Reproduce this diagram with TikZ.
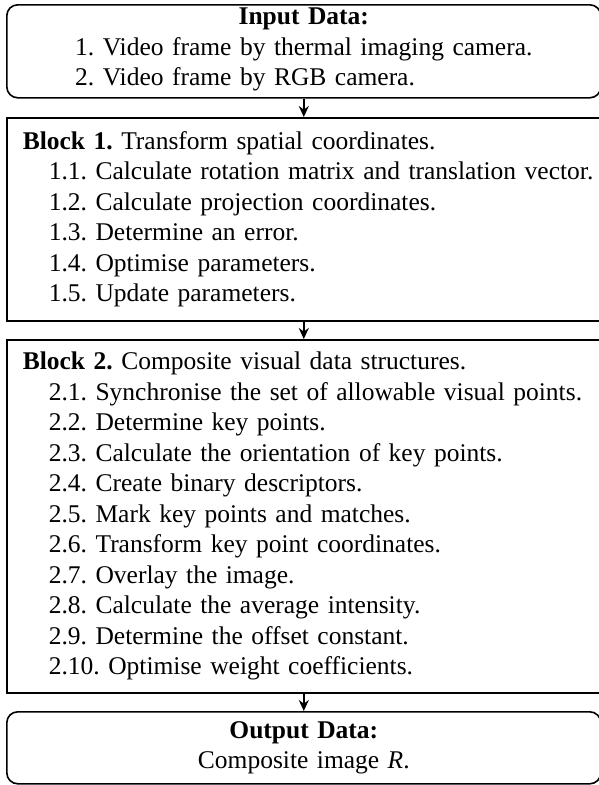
\documentclass[tikz,border=0pt]{standalone}
\usepackage{fontspec}
\setmainfont{Liberation Serif}
\frenchspacing
\usetikzlibrary{arrows.meta, positioning}
\tikzset{
  flowbox/.style={
    draw, line width=1.6pt, align=left, anchor=north west,
    inner xsep=0pt, inner ysep=0pt, text width=594pt,
    font=\fontsize{25.5}{30.5}\selectfont
  },
  flowboxround/.style={
    flowbox, rounded corners=11pt, align=center
  },
  flowarrow/.style={
    -{Stealth[length=11pt,width=10pt]}, line width=1.6pt
  },
}
\newcommand{\blocktitle}[2]{\hspace*{16pt}\textbf{#1} #2}
\newcommand{\blockstep}[1]{\\\hspace*{42pt}#1}

\begin{document}
\begin{tikzpicture}[x=1pt, y=-1pt]
  \useasboundingbox (0,0) rectangle (598,785);

  % Input data
  \node[flowboxround, minimum height=93pt] (input) at (6,4) {
    \textbf{Input Data:}\\
    \begin{tabular}[t]{@{}l@{}}
      1. Video frame by thermal imaging camera.\\
      2. Video frame by RGB camera.
    \end{tabular}
  };

  % Block 1
  \node[flowbox, minimum height=203pt] (block1) at (6,117) {
    \blocktitle{Block 1.}{Transform spatial coordinates.}
    \blockstep{1.1. Calculate rotation matrix and translation vector.}
    \blockstep{1.2. Calculate projection coordinates.}
    \blockstep{1.3. Determine an error.}
    \blockstep{1.4. Optimise parameters.}
    \blockstep{1.5. Update parameters.}
  };

  % Block 2
  \node[flowbox, minimum height=353pt] (block2) at (6,339) {
    \blocktitle{Block 2.}{Composite visual data structures.}
    \blockstep{2.1. Synchronise the set of allowable visual points.}
    \blockstep{2.2. Determine key points.}
    \blockstep{2.3. Calculate the orientation of key points.}
    \blockstep{2.4. Create binary descriptors.}
    \blockstep{2.5. Mark key points and matches.}
    \blockstep{2.6. Transform key point coordinates.}
    \blockstep{2.7. Overlay the image.}
    \blockstep{2.8. Calculate the average intensity.}
    \blockstep{2.9. Determine the offset constant.}
    \blockstep{2.10. Optimise weight coefficients.}
  };

  % Output data
  \node[flowboxround, minimum height=72pt] (output) at (6,711) {
    \textbf{Output Data:}\\
    Composite image \textit{R}.
  };

  % Arrows
  \draw[flowarrow] (input) -- (block1);
  \draw[flowarrow] (block1) -- (block2);
  \draw[flowarrow] (block2) -- (output);
\end{tikzpicture}
\end{document}
